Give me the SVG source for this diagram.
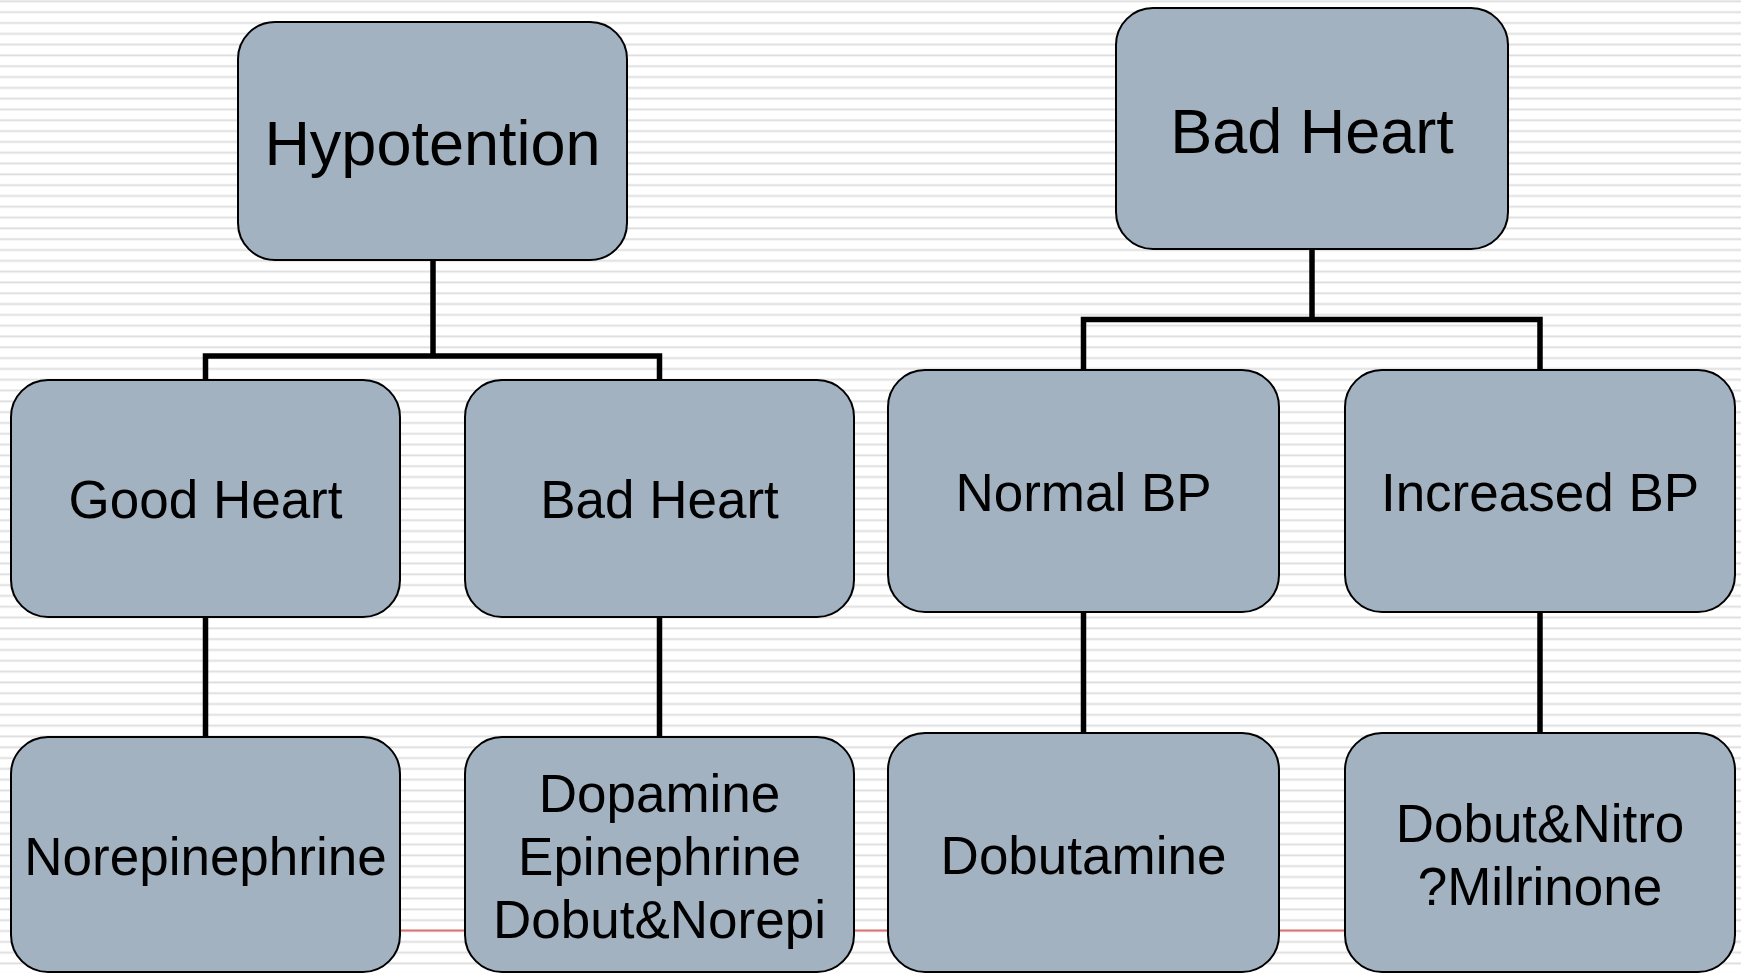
<svg xmlns="http://www.w3.org/2000/svg" width="1741" height="973" viewBox="0 0 1741 973">
<defs>
<pattern id="stripes" patternUnits="userSpaceOnUse" x="0" y="0" width="20" height="10.81">
<rect x="0" y="0" width="20" height="10.81" fill="#ffffff"/>
<rect x="0" y="0" width="20" height="1" fill="#ececec"/>
<rect x="0" y="1" width="20" height="1.3" fill="#dedede"/>
</pattern>
</defs>
<style>
.box{fill:#a2b2c1;stroke:#000;stroke-width:2}
.conn{fill:none;stroke:#000;stroke-width:5.5;stroke-linejoin:miter;stroke-linecap:butt}
.t1{font-family:"Liberation Sans",Arial,sans-serif;font-size:63px;fill:#000;text-anchor:middle}
.t2{font-family:"Liberation Sans",Arial,sans-serif;font-size:53px;fill:#000;text-anchor:middle}
</style>
<rect x="0" y="0" width="1741" height="973" fill="url(#stripes)"/>
<line x1="380" y1="930.5" x2="1360" y2="930.5" stroke="#e07272" stroke-width="2"/>
<g id="connectors">
<path class="conn" d="M433,260 V356 M205.5,380 V356 H659.5 V380"/>
<path class="conn" d="M1312,249 V319.5 M1083.5,370 V319.5 H1540 V370"/>
<path class="conn" d="M205.5,617 V737"/>
<path class="conn" d="M659.5,617 V737"/>
<path class="conn" d="M1083.5,612 V733"/>
<path class="conn" d="M1540,612 V733"/>
</g>
<g id="hypotention">
<rect class="box" x="238" y="22" width="389" height="238" rx="37" ry="37"/>
<text class="t1" x="432.5" y="165">Hypotention</text>
</g>
<g id="bad-heart-top">
<rect class="box" x="1116" y="8" width="392" height="241" rx="37" ry="37"/>
<text class="t1" x="1312" y="153">Bad Heart</text>
</g>
<g id="good-heart">
<rect class="box" x="11" y="380" width="389" height="237" rx="37" ry="37"/>
<text class="t2" x="205.5" y="518">Good Heart</text>
</g>
<g id="bad-heart-mid">
<rect class="box" x="465" y="380" width="389" height="237" rx="37" ry="37"/>
<text class="t2" x="659.5" y="518">Bad Heart</text>
</g>
<g id="normal-bp">
<rect class="box" x="888" y="370" width="391" height="242" rx="37" ry="37"/>
<text class="t2" x="1083.5" y="511">Normal BP</text>
</g>
<g id="increased-bp">
<rect class="box" x="1345" y="370" width="390" height="242" rx="37" ry="37"/>
<text class="t2" x="1540" y="511">Increased BP</text>
</g>
<g id="norepinephrine">
<rect class="box" x="11" y="737" width="389" height="235" rx="37" ry="37"/>
<text class="t2" x="205.5" y="875">Norepinephrine</text>
</g>
<g id="dopamine">
<rect class="box" x="465" y="737" width="389" height="235" rx="37" ry="37"/>
<text class="t2" x="659.5" y="811.7">Dopamine</text>
<text class="t2" x="659.5" y="875">Epinephrine</text>
<text class="t2" x="659.5" y="938.3">Dobut&amp;Norepi</text>
</g>
<g id="dobutamine">
<rect class="box" x="888" y="733" width="391" height="239" rx="37" ry="37"/>
<text class="t2" x="1083.5" y="873.5">Dobutamine</text>
</g>
<g id="dobut-nitro">
<rect class="box" x="1345" y="733" width="390" height="239" rx="37" ry="37"/>
<text class="t2" x="1540" y="841.7">Dobut&amp;Nitro</text>
<text class="t2" x="1540" y="905">?Milrinone</text>
</g>
</svg>
